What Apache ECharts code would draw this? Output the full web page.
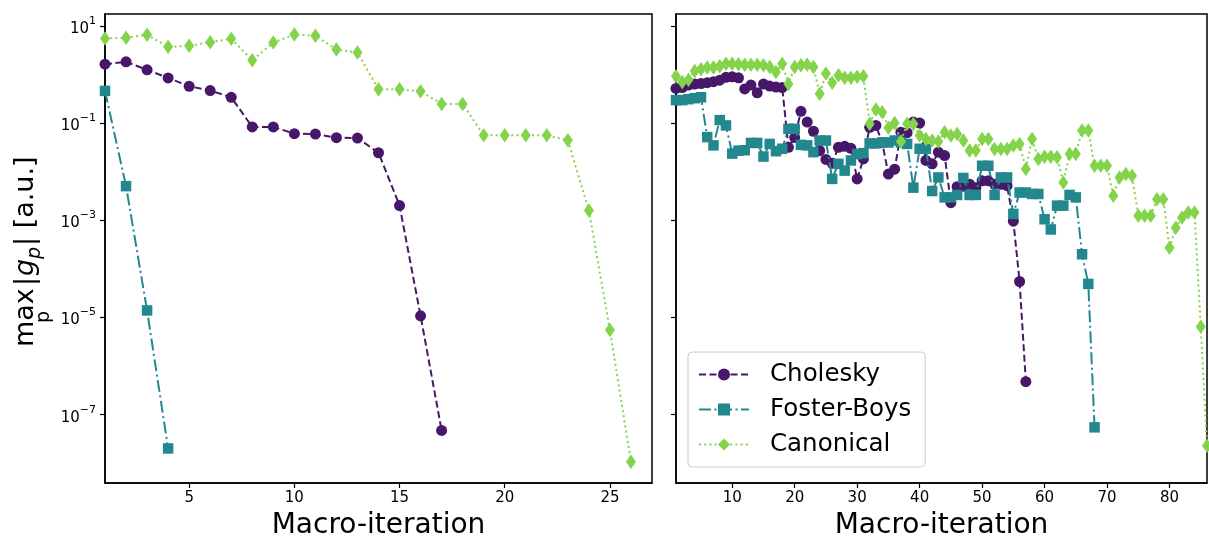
<!DOCTYPE html>
<html lang="en">
<head>
    <meta charset="UTF-8">
    <title>macro_iterations</title>
</head>
<body style="margin:0;background:#fff;">
<div id="chart" style="width:1209px;height:538px;"></div>
<script src="https://cdn.jsdelivr.net/npm/echarts@6.0.0/dist/echarts.min.js"></script>
<script type="text/javascript">
    // log10 of max_p |g_p| at every macro-iteration
    // left panel
    const cholLeft = [0.21, 0.258, 0.093, -0.072, -0.244, -0.333, -0.471, -1.082, -1.082, -1.22,
        -1.227, -1.302, -1.309, -1.612, -2.698, -4.966, -7.323];
    const fbLeft = [-0.34, -2.299, -4.856, -7.694];
    const canLeft = [0.739, 0.753, 0.814, 0.567, 0.588, 0.663, 0.732, 0.292, 0.656, 0.821,
        0.794, 0.512, 0.45, -0.306, -0.306, -0.347, -0.608, -0.608, -1.254, -1.254,
        -1.254, -1.254, -1.357, -2.8, -5.26, -7.97];

    // right panel
    const cholRight = [-0.29, -0.27, -0.22, -0.2, -0.19, -0.17, -0.15, -0.12, -0.06, -0.05,
        -0.07, -0.3, -0.22, -0.38, -0.2, -0.24, -0.26, -0.27, -1.5, -1.3,
        -0.76, -0.98, -1.17, -1.57, -1.75, -1.83, -1.5, -1.48, -1.52, -2.15,
        -1.74, -1.09, -1.05, -1.4, -2.05, -1.95, -1.19, -1.2, -0.98, -1.0,
        -1.77, -1.84, -1.6, -1.67, -2.64, -2.31, -2.3, -2.26, -2.33, -2.19,
        -2.19, -2.26, -2.26, -2.29, -3.02, -4.26, -6.32];
    const fbRight = [-0.53, -0.53, -0.51, -0.49, -0.47, -1.29, -1.46, -0.94, -1.05, -1.63,
        -1.57, -1.56, -1.41, -1.41, -1.69, -1.43, -1.58, -1.53, -1.12, -1.12,
        -1.45, -1.46, -1.6, -1.36, -1.36, -2.15, -1.84, -1.98, -1.77, -1.64,
        -1.62, -1.42, -1.42, -1.4, -1.4, -1.36, -1.4, -1.43, -2.33, -1.53,
        -1.53, -2.4, -2.12, -2.53, -2.53, -2.48, -2.13, -2.48, -2.48, -1.88,
        -1.88, -2.48, -2.12, -2.12, -2.87, -2.43, -2.43, -2.46, -2.46, -2.98,
        -3.19, -2.7, -2.7, -2.48, -2.53, -3.7, -4.31, -7.26];
    const canRight = [-0.04, -0.157, -0.11, 0.07, 0.105, 0.14, 0.14, 0.167, 0.22, 0.22,
        0.21, 0.2, 0.2, 0.2, 0.19, 0.153, 0.05, 0.22, -0.2, 0.15,
        0.19, 0.2, 0.15, -0.4, 0.016, -0.17, -0.02, -0.07, -0.07, -0.05,
        -0.04, -1.017, -0.72, -0.777, -1.1, -1.0, -1.38, -1.017, -1.02, -1.258,
        -1.327, -1.36, -1.38, -1.19, -1.258, -1.224, -1.36, -1.568, -1.568, -1.327,
        -1.327, -1.533, -1.533, -1.533, -1.465, -1.43, -1.946, -1.327, -1.74, -1.692,
        -1.692, -1.706, -2.223, -1.636, -1.636, -1.155, -1.155, -1.878, -1.878, -1.878,
        -2.498, -2.12, -2.05, -2.085, -2.91, -2.91, -2.91, -2.566, -2.566, -3.566,
        -3.153, -2.946, -2.843, -2.843, -5.19, -7.64];

    const names = ['Cholesky', 'Foster-Boys', 'Canonical'];
    const xTicksLeft = [5, 10, 15, 20, 25];
    const xTicksRight = [10, 20, 30, 40, 50, 60, 70, 80];
    const yTicks = [-7, -5, -3, -1, 1];

    const FONT = 'DejaVu Sans';
    const colors = ['#471769', '#23888e', '#84d44b'];
    const symbols = ['circle', 'rect', 'path://M0,-8L5.2,0L0,8L-5.2,0Z'];
    const sizes = [11, 10.5, [10, 14.5]];
    const dashes = [[7, 3.5], [12, 3.5, 2, 3.5], [2, 3.2]];

    let myChart = echarts.init(document.getElementById('chart'));

    function toPoints(arr) {
        return arr.map(function (v, k) { return [k + 1, v]; });
    }

    function getXAxis(gridIndex, max, ticks) {
        return {
            type: 'value', gridIndex: gridIndex, min: 1, max: max,
            name: 'Macro-iteration', nameLocation: 'middle', nameGap: 29,
            nameTextStyle: {fontSize: 28, fontFamily: FONT, color: '#000'},
            axisLine: {onZero: false, lineStyle: {color: '#000', width: 1.5}},
            axisTick: {customValues: ticks, length: 5, lineStyle: {color: '#000', width: 1.2}},
            axisLabel: {customValues: ticks, margin: 8, fontSize: 15, fontFamily: FONT, color: '#000'},
            splitLine: {show: false}
        };
    }

    function getYAxis(gridIndex, showLabel) {
        return {
            type: 'value', gridIndex: gridIndex, min: -8.405, max: 1.242,
            axisLine: {onZero: false, lineStyle: {color: '#000', width: 1.5}},
            axisTick: {customValues: yTicks, length: 5, lineStyle: {color: '#000', width: 1.2}},
            axisLabel: {
                show: showLabel, customValues: yTicks, margin: 9,
                formatter: function (v) {
                    return '{b|10}{s|' + (v < 0 ? '\u2212' : '') + Math.abs(v) + '}';
                },
                rich: {
                    b: {fontSize: 15, fontFamily: FONT, color: '#000', lineHeight: 21, verticalAlign: 'bottom'},
                    s: {fontSize: 11, fontFamily: FONT, color: '#000', lineHeight: 12, verticalAlign: 'top'}
                }
            },
            splitLine: {show: false}
        };
    }

    function getSeries(i, arr, gridIndex) {
        return {
            type: 'line', name: names[i], xAxisIndex: gridIndex, yAxisIndex: gridIndex,
            data: toPoints(arr),
            symbol: symbols[i], symbolSize: sizes[i], symbolKeepAspect: false,
            itemStyle: {color: colors[i]},
            lineStyle: {color: colors[i], width: 2, type: dashes[i]},
            z: 2 + i
        };
    }

    // y title: max_p |g_p| [a.u.], drawn rotated
    function yTitle() {
        const big = '27px "' + FONT + '"';
        const small = '19px "' + FONT + '"';
        return {
            type: 'group', x: 34, y: 250, rotation: Math.PI / 2,
            children: [
                {type: 'text', style: {text: 'max', x: -97, y: 5, font: big, fill: '#000', verticalAlign: 'bottom'}},
                {type: 'text', style: {text: 'p', x: -67, y: 1, font: small, fill: '#000', align: 'center', verticalAlign: 'top'}},
                {type: 'text', style: {text: '|', x: -36, y: 5, font: big, fill: '#000', verticalAlign: 'bottom'}},
                {type: 'text', style: {text: 'g', x: -26, y: 5, font: 'italic ' + big, fill: '#000', verticalAlign: 'bottom'}},
                {type: 'text', style: {text: 'p', x: -9, y: 11, font: 'italic ' + small, fill: '#000', verticalAlign: 'bottom'}},
                {type: 'text', style: {text: '| [a.u.]', x: 4, y: 5, font: big, fill: '#000', verticalAlign: 'bottom'}}
            ]
        };
    }

    let option = {
        animation: false,
        backgroundColor: '#fff',
        grid: [
            {left: 105, top: 14, width: 547, height: 469, outerBoundsMode: 'none',
                show: true, borderColor: '#000', borderWidth: 1.5},
            {left: 676, top: 14, width: 531, height: 469, outerBoundsMode: 'none',
                show: true, borderColor: '#000', borderWidth: 1.5}
        ],
        xAxis: [getXAxis(0, 27, xTicksLeft), getXAxis(1, 86, xTicksRight)],
        yAxis: [getYAxis(0, true), getYAxis(1, false)],
        legend: {
            data: names, orient: 'vertical', left: 688, top: 352,
            padding: [10, 14, 10, 10], itemGap: 10, itemWidth: 50, itemHeight: 15,
            backgroundColor: 'rgba(255,255,255,0.8)', borderColor: '#cccccc', borderWidth: 1, borderRadius: 4,
            textStyle: {fontSize: 24.5, fontFamily: FONT, color: '#000', padding: [0, 0, 0, 16]}
        },
        graphic: [yTitle()],
        series: [
            getSeries(0, cholLeft, 0), getSeries(1, fbLeft, 0), getSeries(2, canLeft, 0),
            getSeries(0, cholRight, 1), getSeries(1, fbRight, 1), getSeries(2, canRight, 1)
        ]
    };

    myChart.setOption(option);
</script>
</body>
</html>
